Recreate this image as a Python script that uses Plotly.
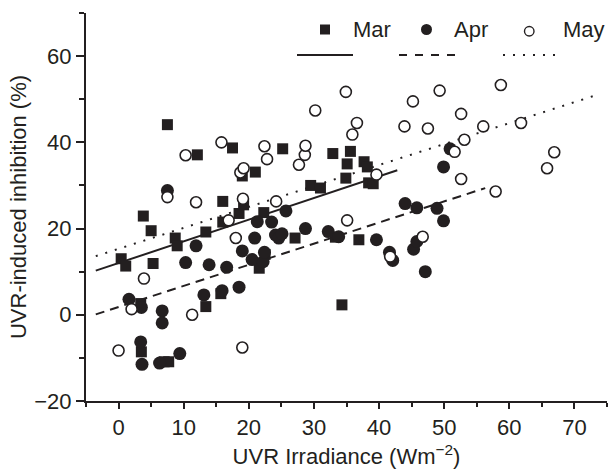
import plotly.graph_objects as go

# ---------------- data ----------------
mar_x = [0.4, 1.1, 3.4, 3.5, 3.8, 5.0, 5.3, 7.0, 7.7, 7.5, 8.7, 9.0, 12.1, 13.4, 13.4, 15.7,
         16.0, 16.0, 17.5, 18.5, 19.0, 19.2, 21.0, 21.6, 22.3, 22.5, 25.2, 27.1, 29.5, 31.0,
         32.9, 33.3, 34.3, 34.9, 35.1, 35.6, 36.9, 37.7, 38.2, 38.4, 39.1]
mar_y = [13.0, 11.3, 2.6, -8.6, 22.9, 19.5, 11.9, -10.9, -10.9, 44.1, 17.8, 16.0, 37.1, 19.2, 1.9, 4.9,
         26.3, 21.5, 38.7, 23.5, 32.2, 25.5, 33.1, 10.8, 23.7, 14.0, 38.5, 17.8, 30.0, 29.4,
         37.4, 18.0, 2.3, 31.7, 35.0, 37.9, 17.4, 35.5, 34.3, 30.6, 30.4]

apr_x = [1.6, 3.4, 3.5, 3.6, 6.3, 6.7, 6.7, 7.5, 9.4, 10.3, 11.9, 13.1, 13.9, 15.9, 16.6, 18.5,
         19.0, 20.5, 20.9, 21.3, 22.2, 22.4, 23.5, 24.1, 24.6, 25.1, 25.7, 28.7, 32.2, 33.8,
         39.6, 41.6, 42.1, 44.0, 45.3, 45.8, 45.8, 47.1, 48.9, 49.9, 49.9, 50.9]
apr_y = [3.6, -6.3, 1.7, -11.5, -11.2, 0.9, -1.9, 28.8, -9.0, 12.1, 16.0, 4.6, 11.6, 5.6, 11.0, 6.4,
         14.8, 12.8, 17.8, 21.6, 12.3, 14.5, 21.5, 18.5, 17.8, 18.8, 24.1, 20.0, 19.3, 18.1,
         17.4, 14.5, 12.6, 25.8, 15.2, 17.0, 24.8, 10.0, 24.7, 34.3, 21.8, 38.5]

may_x = [0.0, 2.0, 3.9, 7.5, 10.3, 11.3, 11.9, 15.8, 16.9, 18.0, 18.7, 19.2, 19.1, 19.0, 22.4,
         22.8, 24.2, 27.7, 28.6, 28.7, 30.2, 34.9, 35.1, 35.9, 36.6, 39.6, 41.7, 43.9, 45.2,
         46.7, 47.5, 49.3, 51.6, 52.6, 52.6, 53.1, 56.0, 57.9, 58.7, 61.8, 65.8, 66.9]
may_y = [-8.3, 1.3, 8.4, 27.3, 37.0, 0.0, 26.1, 40.0, 21.9, 17.8, 33.0, 34.0, 26.9, -7.6, 39.1,
         36.1, 26.3, 34.8, 37.1, 39.2, 47.4, 51.7, 21.9, 41.8, 44.5, 32.5, 13.5, 43.7, 49.5,
         18.1, 43.2, 52.0, 37.8, 46.6, 31.5, 40.6, 43.7, 28.6, 53.3, 44.5, 34.0, 37.7]

# regression lines: intercept, slope, x-extent
mar_fit = dict(a=12.0, b=0.503, x0=-3.5, x1=42.8)
apr_fit = dict(a=1.8, b=0.49, x0=-3.5, x1=56.3)
may_fit = dict(a=15.3, b=0.486, x0=-3.5, x1=73.9)

months = ["Mar", "Apr", "May"]
x_ticks = [0, 10, 20, 30, 40, 50, 60, 70]
y_ticks = [-20, 0, 20, 40, 60]

# ---------------- figure ----------------
INK = "#231f20"
FONT = "Liberation Sans, Arial, sans-serif"
W, H = 609, 474
ML, MR, MT, MB = 86, 2, 13, 73

fig = go.Figure()


def fit_line(f, dash, name):
    xs = [f["x0"], f["x1"]]
    ys = [f["a"] + f["b"] * v for v in xs]
    fig.add_trace(go.Scatter(x=xs, y=ys, mode="lines", name=name, showlegend=False,
                             line=dict(color=INK, width=2, dash=dash), hoverinfo="skip"))


fit_line(mar_fit, "solid", "Mar fit")
fit_line(apr_fit, "9px,6px", "Apr fit")
fit_line(may_fit, "2px,8px", "May fit")

fig.add_trace(go.Scatter(x=mar_x, y=mar_y, mode="markers", name=months[0], showlegend=False,
                         marker=dict(symbol="square", size=11, color=INK, line=dict(width=0))))
fig.add_trace(go.Scatter(x=apr_x, y=apr_y, mode="markers", name=months[1], showlegend=False,
                         marker=dict(symbol="circle", size=13, color=INK, line=dict(width=0))))
fig.add_trace(go.Scatter(x=may_x, y=may_y, mode="markers", name=months[2], showlegend=False,
                         marker=dict(symbol="circle", size=11, color="white",
                                     line=dict(width=1.6, color=INK))))

# ---------------- custom legend ----------------
PW = W - ML - MR
PH = H - MT - MB


def px(xp):
    return (xp - ML) / PW


def py(yp):
    return (H - MB - yp) / PH


shapes = []
annotations = []
leg_y = 29.5
line_y = 55
# Mar
shapes.append(dict(type="rect", xref="paper", yref="paper", x0=px(320), x1=px(330),
                   y0=py(leg_y + 5), y1=py(leg_y - 5), fillcolor=INK, line=dict(width=0)))
# Apr
shapes.append(dict(type="circle", xref="paper", yref="paper", x0=px(421), x1=px(432),
                   y0=py(leg_y + 5.5), y1=py(leg_y - 5.5), fillcolor=INK, line=dict(width=0)))
# May
shapes.append(dict(type="circle", xref="paper", yref="paper", x0=px(524.5), x1=px(534),
                   y0=py(leg_y + 6.5), y1=py(leg_y - 3), fillcolor="white",
                   line=dict(width=1.4, color=INK)))
for lx0, lx1, dash in [(297, 353, "solid"), (399, 455, "8px,8px"), (503, 556, "2px,8px")]:
    shapes.append(dict(type="line", xref="paper", yref="paper", x0=px(lx0), x1=px(lx1),
                       y0=py(line_y), y1=py(line_y), line=dict(color=INK, width=2, dash=dash)))
for tx, t in [(351, months[0]), (452, months[1]), (561, months[2])]:
    annotations.append(dict(text=t, xref="paper", yref="paper", x=px(tx), y=py(leg_y),
                            xanchor="left", yanchor="middle", showarrow=False,
                            font=dict(size=22, color=INK, family=FONT)))

axis_common = dict(showline=True, linewidth=2, linecolor=INK, showgrid=False, zeroline=False,
                   ticks="outside", tickwidth=2, tickcolor=INK, automargin=False,
                   tickfont=dict(size=22, color=INK, family=FONT))

fig.update_layout(
    width=W, height=H,
    margin=dict(l=ML, r=MR, t=MT, b=MB),
    plot_bgcolor="white", paper_bgcolor="white",
    font=dict(family=FONT, color=INK),
    shapes=shapes, annotations=annotations,
    xaxis=dict(range=[-5, 75], tickvals=x_ticks, ticklen=6,
               minor=dict(dtick=5, tick0=0, ticks="outside", ticklen=4, tickwidth=2, tickcolor=INK),
               title=dict(text="UVR Irradiance (Wm<sup>−2</sup>)", standoff=9,
                          font=dict(size=22, color=INK, family=FONT)),
               **axis_common),
    yaxis=dict(range=[-20, 70], tickvals=y_ticks, ticklen=8,
               minor=dict(dtick=10, tick0=0, ticks="outside", ticklen=5, tickwidth=2, tickcolor=INK),
               title=dict(text="UVR-induced inhibition (%)", standoff=2,
                          font=dict(size=22, color=INK, family=FONT)),
               **axis_common),
)

fig.write_html("out.html", config={"displayModeBar": False},
               post_script="document.body.style.margin='0';")
